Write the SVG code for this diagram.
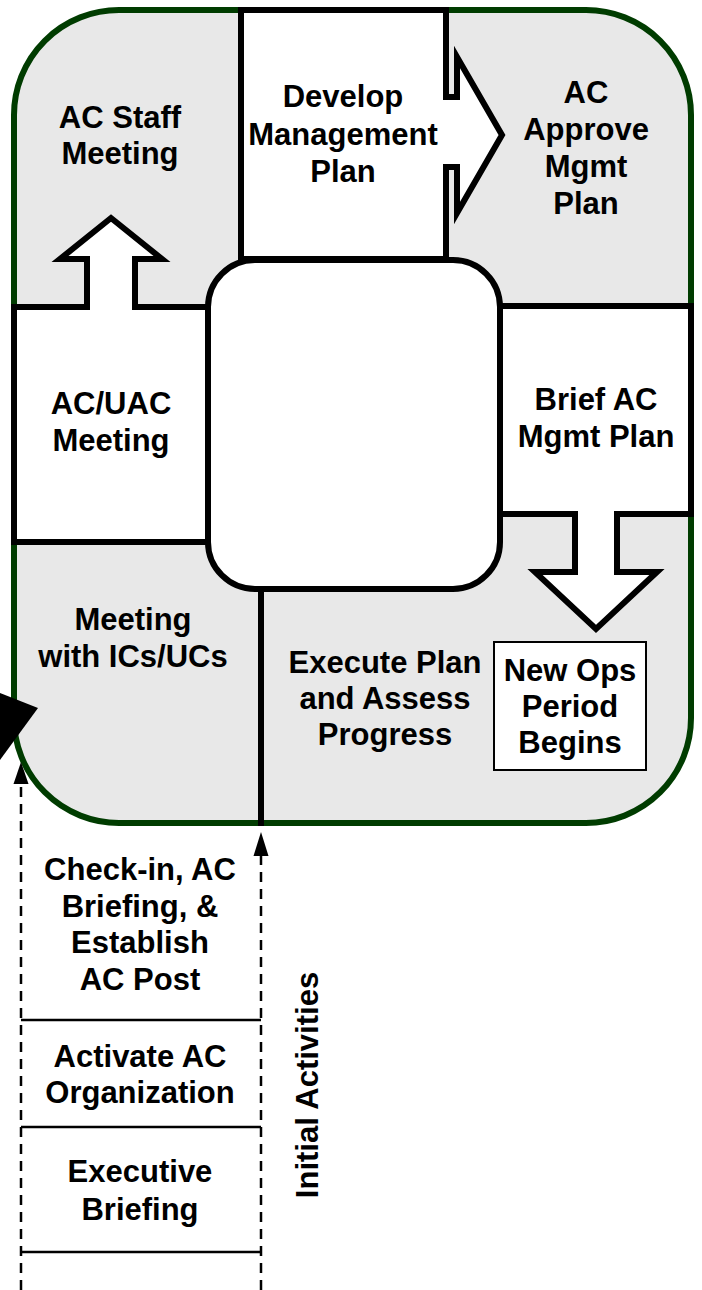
<svg xmlns="http://www.w3.org/2000/svg" width="702" height="1290" viewBox="0 0 702 1290">
  <defs>
    <style>
      .lbl { font-family: "Liberation Sans", Arial, sans-serif; font-weight: bold; font-size: 31px; fill: #000; text-anchor: middle; }
      .box { fill: #ffffff; stroke: #000; stroke-width: 6; stroke-linejoin: miter; }
      .thin { fill: none; stroke: #000; stroke-width: 2.5; }
      .dash { fill: none; stroke: #000; stroke-width: 2.5; stroke-dasharray: 10 7; }
      .head { fill: #000; stroke: none; }
    </style>
  </defs>
  <rect width="702" height="1290" fill="#ffffff"/>

  <g id="cycle-frame">
    <rect x="14" y="10" width="677" height="813" rx="105" ry="105" fill="#e8e8e8" stroke="#003c00" stroke-width="6"/>
  </g>

  <g id="ac-staff-meeting">
    <text class="lbl" x="120" y="128">AC Staff</text>
    <text class="lbl" x="120" y="164">Meeting</text>
  </g>

  <g id="develop-management-plan">
    <path class="box" d="M241,10 L446,10 L446,97 L457,97 L457,57 L502,135 L457,213 L457,167 L446,167 L446,259 L241,259 Z"/>
    <text class="lbl" x="343" y="107">Develop</text>
    <text class="lbl" x="343" y="145">Management</text>
    <text class="lbl" x="343" y="182">Plan</text>
  </g>

  <g id="ac-approve-mgmt-plan">
    <text class="lbl" x="586" y="103">AC</text>
    <text class="lbl" x="586" y="140">Approve</text>
    <text class="lbl" x="586" y="177">Mgmt</text>
    <text class="lbl" x="586" y="214">Plan</text>
  </g>

  <g id="ac-uac-meeting">
    <path class="box" d="M14,307 L87,307 L87,259 L60,259 L111,218 L162,259 L135,259 L135,307 L208,307 L208,542 L14,542 Z"/>
    <text class="lbl" x="111" y="414">AC/UAC</text>
    <text class="lbl" x="111" y="451">Meeting</text>
  </g>

  <g id="brief-ac-mgmt-plan">
    <path class="box" d="M500,306 L691,306 L691,514 L617,514 L617,572 L657,572 L596,629 L535,572 L575,572 L575,514 L500,514 Z"/>
    <text class="lbl" x="596" y="410">Brief AC</text>
    <text class="lbl" x="596" y="447">Mgmt Plan</text>
  </g>

  <g id="center">
    <rect class="box" x="208" y="260" width="292" height="329" rx="47" ry="47"/>
  </g>

  <g id="meeting-with-ics-ucs">
    <text class="lbl" x="133" y="630">Meeting</text>
    <text class="lbl" x="133" y="667">with ICs/UCs</text>
  </g>

  <g id="execute-plan">
    <text class="lbl" x="385" y="673">Execute Plan</text>
    <text class="lbl" x="385" y="709">and Assess</text>
    <text class="lbl" x="385" y="745">Progress</text>
  </g>

  <g id="new-ops-period">
    <rect x="494" y="642" width="152" height="128" fill="#ffffff" stroke="#000" stroke-width="2"/>
    <text class="lbl" x="570" y="681">New Ops</text>
    <text class="lbl" x="570" y="717">Period</text>
    <text class="lbl" x="570" y="753">Begins</text>
  </g>

  <g id="initial-activities">
    <text class="lbl" x="140" y="880">Check-in, AC</text>
    <text class="lbl" x="140" y="917">Briefing, &amp;</text>
    <text class="lbl" x="140" y="953">Establish</text>
    <text class="lbl" x="140" y="990">AC Post</text>
    <text class="lbl" x="140" y="1067">Activate AC</text>
    <text class="lbl" x="140" y="1103">Organization</text>
    <text class="lbl" x="140" y="1182">Executive</text>
    <text class="lbl" x="140" y="1220">Briefing</text>
    <text class="lbl" transform="translate(318,1085) rotate(-90)" x="0" y="0">Initial Activities</text>
  </g>

  <g id="connectors">
    <line x1="261" y1="589" x2="261" y2="826" stroke="#000" stroke-width="6"/>
    <polygon points="38,708 -30,681 -30,801" fill="#000"/>
    <line class="dash" x1="21" y1="1290" x2="21" y2="780"/>
    <polygon class="head" points="21,762 28.5,784 13.5,784"/>
    <line class="dash" x1="261" y1="1290" x2="261" y2="854"/>
    <polygon class="head" points="261,832 268.5,856 253.5,856"/>
    <line class="thin" x1="21" y1="1020" x2="261" y2="1020"/>
    <line class="thin" x1="21" y1="1127" x2="261" y2="1127"/>
    <line class="thin" x1="21" y1="1252" x2="261" y2="1252"/>
  </g>
</svg>
